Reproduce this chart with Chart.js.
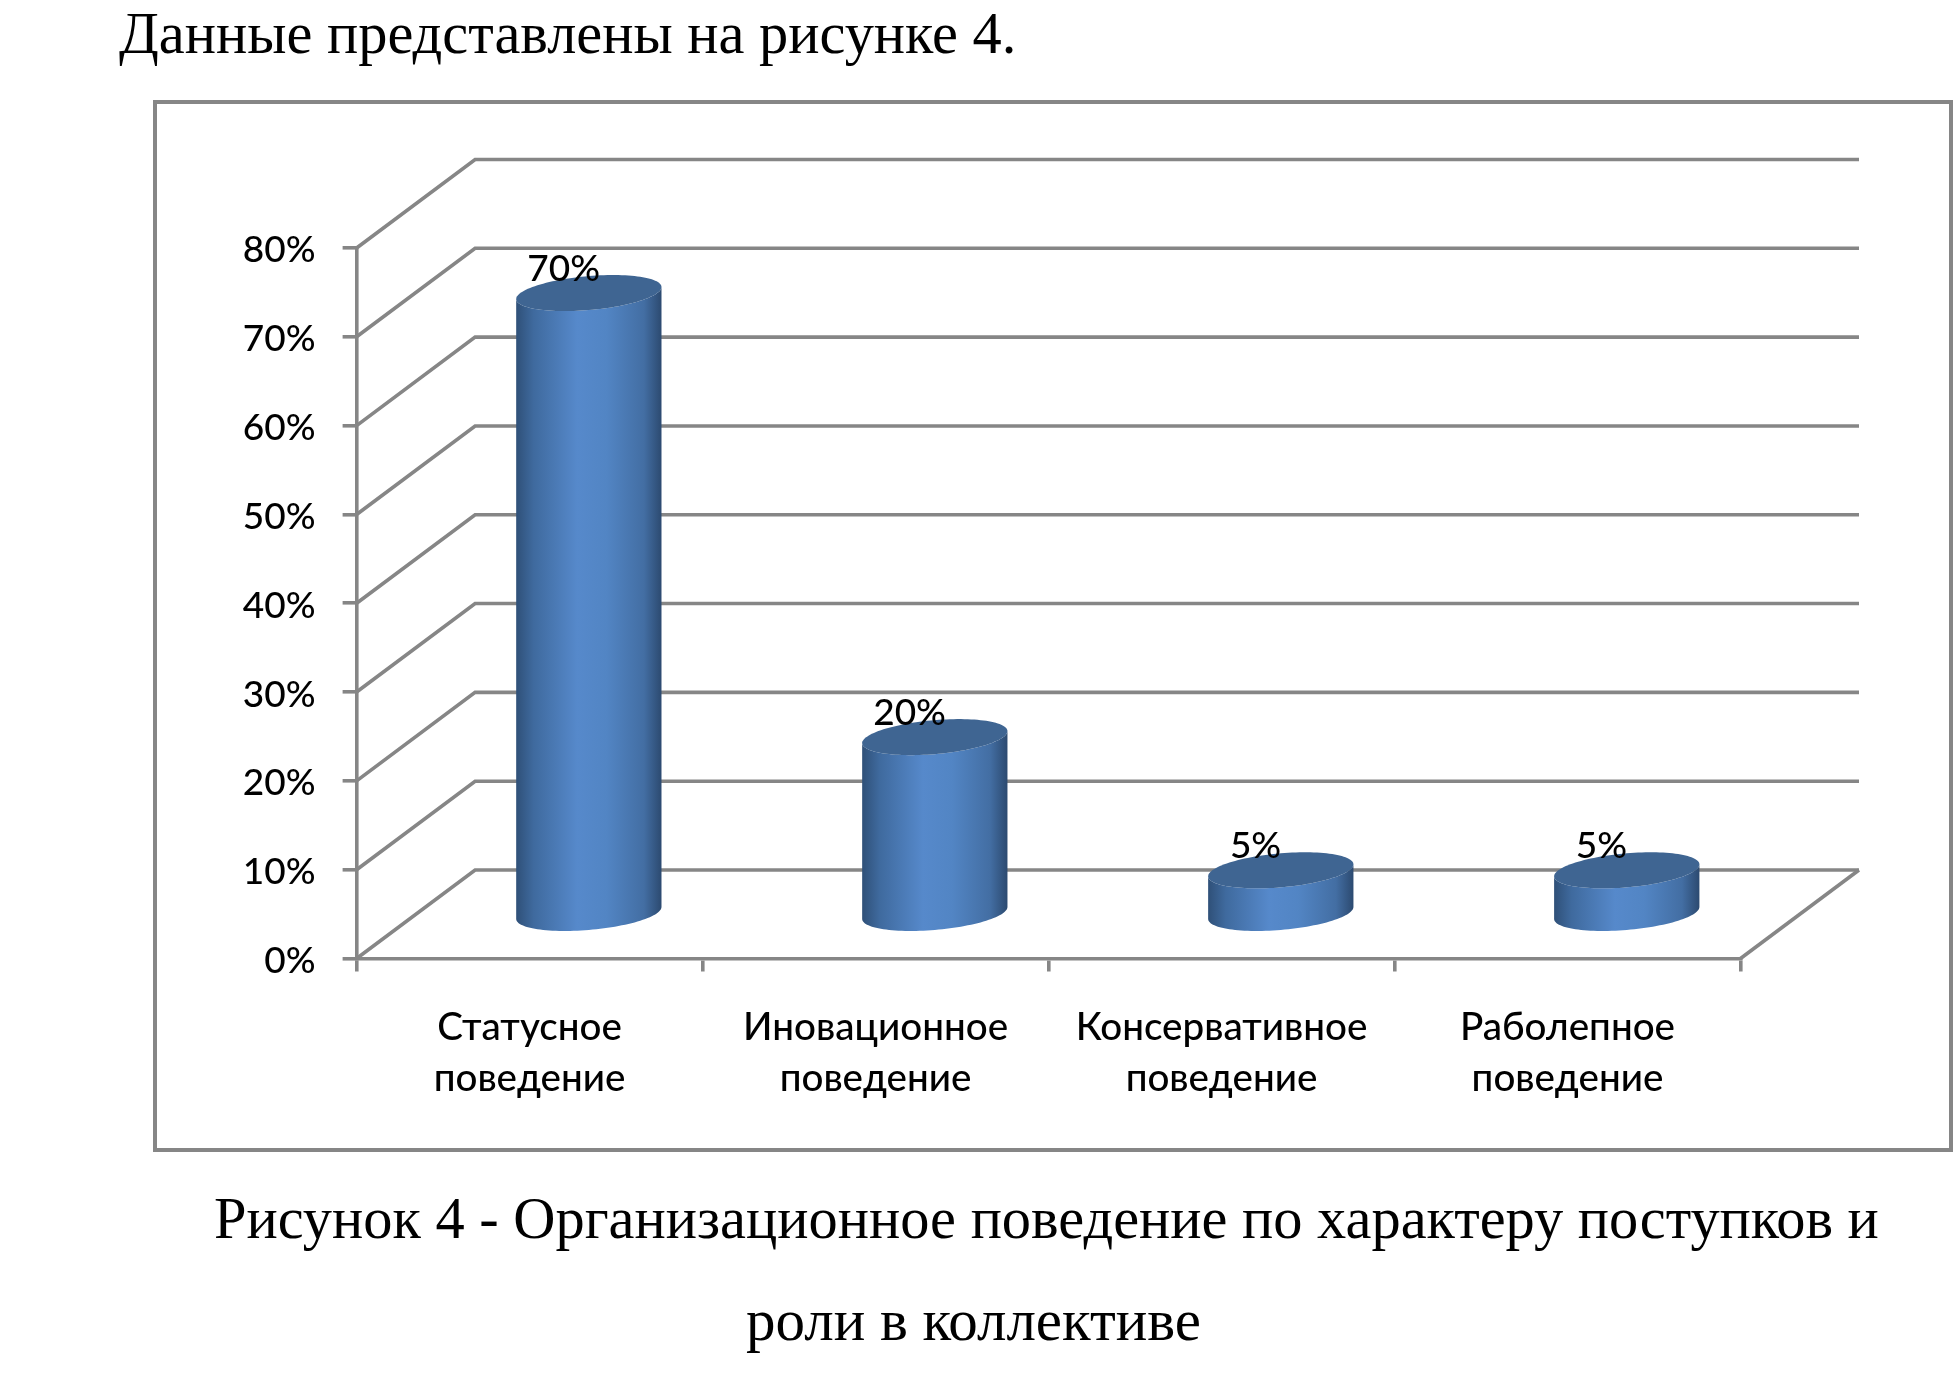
<!DOCTYPE html>
<html lang="ru"><head><meta charset="utf-8">
<script src="https://cdn.jsdelivr.net/npm/chart.js@4"></script>
<style>
html,body{margin:0;padding:0;background:#fff;width:1955px;height:1386px;overflow:hidden}
canvas{position:absolute;left:0;top:0}
.t{position:absolute;font-family:"Liberation Serif",serif;color:#000;white-space:nowrap;line-height:1;font-size:58.4px}
</style></head><body>
<canvas id="c" width="1955" height="1386"></canvas>
<div class="t" style="left:119px;top:5px">Данные представлены на рисунке 4.</div>
<div class="t" style="left:214px;top:1190px">Рисунок 4 - Организационное поведение по характеру поступков и</div>
<div class="t" style="left:746px;top:1291px;font-size:59px">роли в коллективе</div>
<script>
const categories = [["Статусное","поведение"],["Иновационное","поведение"],["Консервативное","поведение"],["Раболепное","поведение"]];
const values = [70, 20, 5, 5];
const valueLabels = ["70%","20%","5%","5%"];
const yTickStep = 10, yMax = 80;

const DX = 118.5, DY = 88.5, GRID = '#868686', FONT = 'Lato, "Open Sans", sans-serif', FS = 37, FSX = 38.6;

class CylinderElement extends Chart.BarElement {
  draw(ctx){
    const {x,y,base,width} = this.getProps(['x','y','base','width']);
    const a = width/2, cx = x+DX/2, top = y-DY/2+.5, bot = base-DY/2+.5, s = 6, h = 17;
    const pt = (cy,t)=>[cx+a*Math.cos(t), cy - s*Math.cos(t) + h*Math.sin(t)];
    const g = ctx.createLinearGradient(cx-a,0,cx+a,0);
    g.addColorStop(0,'#2f5078'); g.addColorStop(.12,'#3f6a9e'); g.addColorStop(.42,'#5689cb');
    g.addColorStop(.62,'#5285c4'); g.addColorStop(.88,'#436ea3'); g.addColorStop(1,'#2c4a70');
    ctx.save();
    ctx.beginPath();
    for(let i=0;i<=60;i++){const p=pt(bot,Math.PI*i/60); ctx.lineTo(p[0],p[1]);}
    for(let i=60;i>=0;i--){const p=pt(top,Math.PI*i/60); ctx.lineTo(p[0],p[1]);}
    ctx.closePath(); ctx.fillStyle=g; ctx.fill();
    ctx.beginPath();
    for(let i=0;i<=120;i++){const p=pt(top,2*Math.PI*i/120); ctx.lineTo(p[0],p[1]);}
    ctx.closePath(); ctx.fillStyle='#3f6592'; ctx.fill();
    ctx.restore();
  }
}
CylinderElement.id='cylinder';
CylinderElement.defaults=Chart.BarElement.defaults;
class CylinderController extends Chart.BarController {}
CylinderController.id='cylinderBar';
CylinderController.defaults={...Chart.BarController.defaults,dataElementType:'cylinder'};
CylinderController.overrides=Chart.BarController.overrides;
Chart.register(CylinderElement,CylinderController);

const room = {
  id:'room',
  beforeDatasetsDraw(chart){
    const c=chart.ctx,{x:xs,y:ys}=chart.scales,l=chart.chartArea.left,r=chart.chartArea.right;
    c.save();
    c.strokeStyle=GRID;c.lineWidth=4;c.strokeRect(155,102,1796,1048);
    c.lineWidth=3.6;c.lineJoin='miter';
    ys.ticks.forEach(t=>{const y=ys.getPixelForValue(t.value);
      c.beginPath();c.moveTo(l,y);c.lineTo(l+DX,y-DY);c.lineTo(r+DX,y-DY);c.stroke();});
    const y0=ys.getPixelForValue(0);
    c.beginPath();c.moveTo(r,y0);c.lineTo(r+DX,y0-DY);c.stroke();
    c.restore();
  },
  afterDatasetsDraw(chart){
    const c=chart.ctx,m=chart.getDatasetMeta(0);
    c.save();c.fillStyle='#000';c.font='500 '+FS+'px '+FONT;c.textAlign='center';c.textBaseline='middle';
    m.data.forEach((b,i)=>c.fillText(valueLabels[i],b.x+34,b.y-68));
    c.restore();
  }
};

new Chart(document.getElementById('c'),{
  type:'cylinderBar',
  data:{labels:categories,datasets:[{data:values,backgroundColor:'#4f81bd',barPercentage:.42,categoryPercentage:1}]},
  plugins:[room],
  options:{
    responsive:false,animation:false,
    layout:{padding:{top:248,right:214.5,left:0,bottom:0}},
    plugins:{legend:{display:false},tooltip:{enabled:false}},
    scales:{
      x:{type:'category',
        afterFit(s){s.height=1386-958.5;},
        grid:{drawOnChartArea:false,color:GRID,lineWidth:3.6,tickLength:13},
        border:{color:GRID,width:3.6},
        ticks:{color:'#000',maxRotation:0,autoSkip:false,padding:30,font:{family:FONT,size:FSX,weight:500,lineHeight:1.33}}},
      y:{min:0,max:yMax,
        afterFit(s){s.width=356.6;},
        grid:{drawOnChartArea:false,color:GRID,lineWidth:3.6,tickLength:14},
        border:{color:GRID,width:3.6},
        ticks:{stepSize:yTickStep,color:'#000',padding:27,labelOffset:2.5,font:{family:FONT,size:FS,weight:500},callback:v=>v+'%'}}
    }
  }
});
</script>
</body></html>
